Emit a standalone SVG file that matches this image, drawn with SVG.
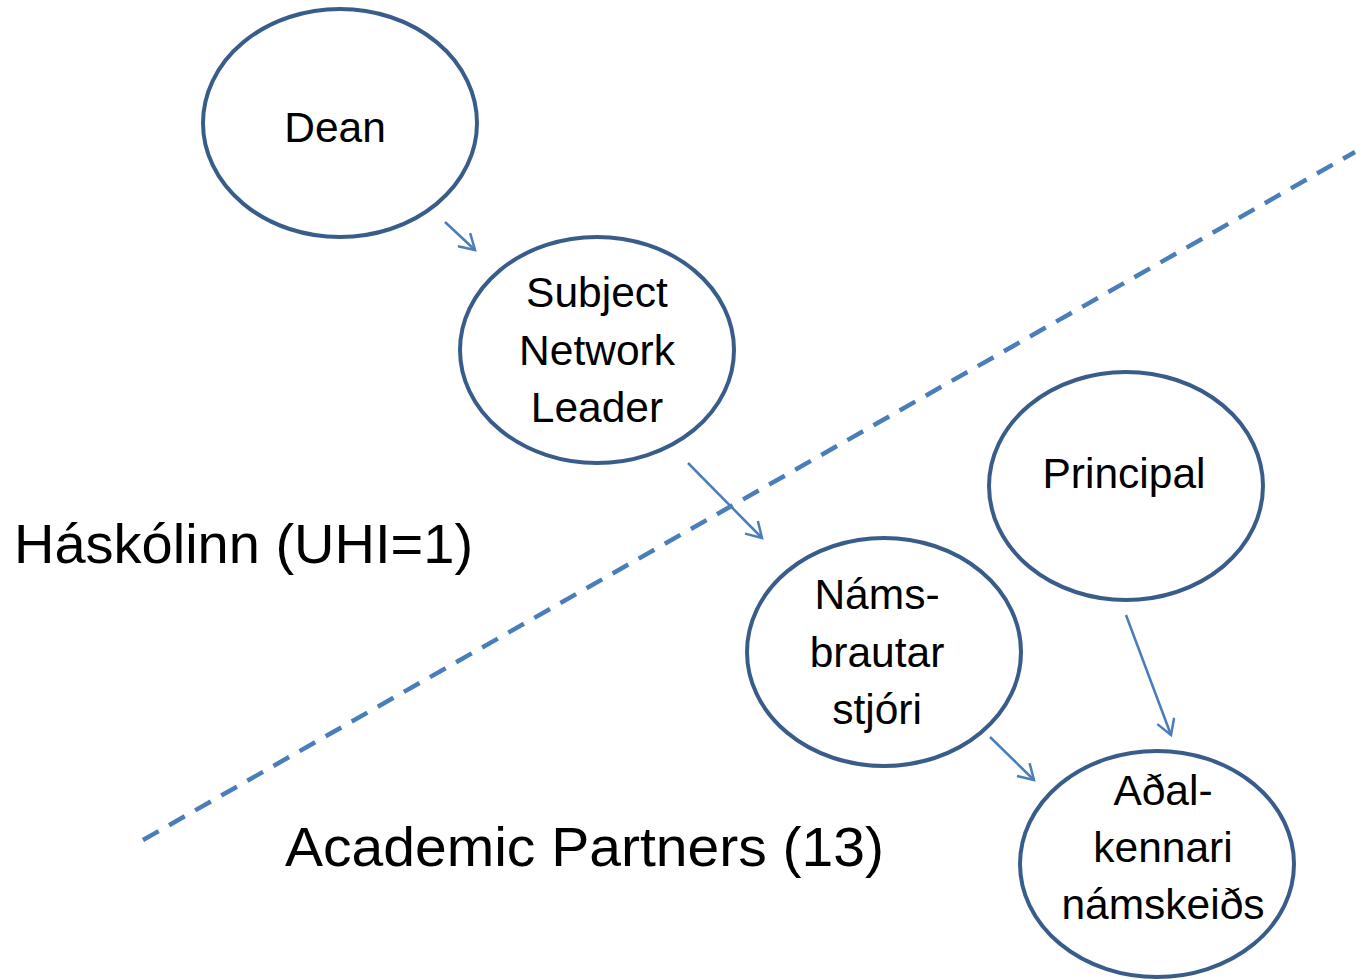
<svg xmlns="http://www.w3.org/2000/svg" width="1361" height="979" viewBox="0 0 1361 979">
<defs>
<style>
.node{fill:#fff;stroke:#385d8a;stroke-width:4}
.t{font-family:"Liberation Sans",Arial,sans-serif;font-size:42.5px;fill:#000;text-anchor:middle}
.big{font-family:"Liberation Sans",Arial,sans-serif;font-size:56px;fill:#000}
.c{stroke:#4a7ebb;stroke-width:2.5;fill:none}
</style>
<marker id="ah2" markerWidth="20" markerHeight="20" refX="17" refY="10" orient="auto" markerUnits="userSpaceOnUse" viewBox="0 0 20 20">
<path d="M2,1 L17,10 L2,19" fill="none" stroke="#4a7ebb" stroke-width="2.5"/>
</marker>
</defs>
<rect width="1361" height="979" fill="#fff"/>
<line x1="143" y1="840" x2="1355" y2="152" stroke="#4a7ebb" stroke-width="4.5" stroke-dasharray="18 12"/>
<text class="big" x="14" y="563">Háskólinn (UHI=1)</text>
<text class="big" x="285" y="866" textLength="599" lengthAdjust="spacingAndGlyphs">Academic Partners (13)</text>
<g id="connectors">
<line class="c" x1="445" y1="222" x2="475" y2="250" marker-end="url(#ah2)"/>
<line class="c" x1="688" y1="463" x2="762" y2="538" marker-end="url(#ah2)"/>
<line class="c" x1="990" y1="737" x2="1034" y2="780" marker-end="url(#ah2)"/>
<line class="c" x1="1126" y1="615" x2="1171" y2="735" marker-end="url(#ah2)"/>
</g>
<g id="dean">
<ellipse class="node" cx="340" cy="123" rx="137" ry="114"/>
<text class="t" x="335" y="142">Dean</text>
</g>
<g id="snl">
<ellipse class="node" cx="597" cy="350" rx="137" ry="113"/>
<text class="t" x="597" y="307">Subject</text>
<text class="t" x="597" y="365">Network</text>
<text class="t" x="597" y="422">Leader</text>
</g>
<g id="principal">
<ellipse class="node" cx="1126" cy="486" rx="137" ry="114"/>
<text class="t" x="1124" y="488">Principal</text>
</g>
<g id="nams">
<ellipse class="node" cx="884" cy="652" rx="137" ry="114"/>
<text class="t" x="877" y="609">Náms-</text>
<text class="t" x="877" y="667">brautar</text>
<text class="t" x="877" y="724">stjóri</text>
</g>
<g id="adal">
<ellipse class="node" cx="1157" cy="864" rx="137" ry="113"/>
<text class="t" x="1163" y="805">Aðal-</text>
<text class="t" x="1163" y="862">kennari</text>
<text class="t" x="1163" y="919">námskeiðs</text>
</g>
</svg>
